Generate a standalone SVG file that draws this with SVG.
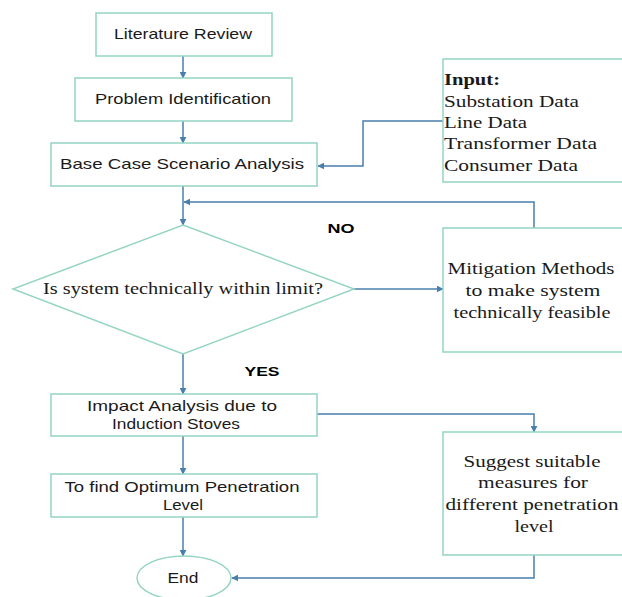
<svg xmlns="http://www.w3.org/2000/svg" width="622" height="597" viewBox="0 0 622 597">
<style>
.box{fill:#fff;stroke:#95d5c4;stroke-width:1.5}
.c{fill:none;stroke:#4a7fad;stroke-width:1.5}
.s{font-family:"Liberation Sans",Arial,sans-serif;font-size:15px;fill:#1a1a1a;text-anchor:middle}
.t{font-family:"Liberation Serif","Times New Roman",serif;font-size:17px;fill:#1a1a1a}
.m{text-anchor:middle}
.b{font-family:"Liberation Sans",Arial,sans-serif;font-size:13px;font-weight:bold;fill:#000;text-anchor:middle}
</style>
<defs>
<marker id="a" viewBox="0 0 10 10" refX="9" refY="5" markerWidth="7" markerHeight="7" markerUnits="userSpaceOnUse" orient="auto">
<path d="M0,0 L10,5 L0,10 z" fill="#4a7fad"/>
</marker>
</defs>
<rect width="622" height="597" fill="#fff"/>
<g id="connectors">
<path class="c" d="M183,56 V78" marker-end="url(#a)"/>
<path class="c" d="M183,121 V143" marker-end="url(#a)"/>
<path class="c" d="M443,121 H363 V166 H318" marker-end="url(#a)"/>
<path class="c" d="M183,186 V225" marker-end="url(#a)"/>
<path class="c" d="M534,228 V202 H184" marker-end="url(#a)"/>
<path class="c" d="M354,289 H443" marker-end="url(#a)"/>
<path class="c" d="M183,354 V394" marker-end="url(#a)"/>
<path class="c" d="M317,414 H534 V432" marker-end="url(#a)"/>
<path class="c" d="M183,436 V474" marker-end="url(#a)"/>
<path class="c" d="M183,517 V556" marker-end="url(#a)"/>
<path class="c" d="M534,555 V578 H232" marker-end="url(#a)"/>
</g>
<g id="literature">
<rect class="box" x="96" y="13" width="176" height="43"/>
<text class="s" x="183" y="39" textLength="138" lengthAdjust="spacingAndGlyphs">Literature Review</text>
</g>
<g id="problem">
<rect class="box" x="75" y="78" width="217" height="43"/>
<text class="s" x="183" y="104" textLength="176" lengthAdjust="spacingAndGlyphs">Problem Identification</text>
</g>
<g id="basecase">
<rect class="box" x="51" y="143" width="266" height="43"/>
<text class="s" x="182" y="169" textLength="244" lengthAdjust="spacingAndGlyphs">Base Case Scenario Analysis</text>
</g>
<g id="input">
<rect class="box" x="443" y="59" width="182" height="123"/>
<text class="t" x="444" y="85" font-weight="bold" textLength="56" lengthAdjust="spacingAndGlyphs">Input:</text>
<text class="t" x="444" y="107" textLength="135" lengthAdjust="spacingAndGlyphs">Substation Data</text>
<text class="t" x="444" y="128" textLength="83" lengthAdjust="spacingAndGlyphs">Line Data</text>
<text class="t" x="444" y="149" textLength="153" lengthAdjust="spacingAndGlyphs">Transformer Data</text>
<text class="t" x="444" y="171" textLength="134" lengthAdjust="spacingAndGlyphs">Consumer Data</text>
</g>
<g id="decision">
<polygon class="box" points="183,225 354,289 183,354 13,289"/>
<text class="t m" x="183" y="294" textLength="280" lengthAdjust="spacingAndGlyphs">Is system technically within limit?</text>
</g>
<g id="mitigation">
<rect class="box" x="443" y="228" width="182" height="124"/>
<text class="t m" x="531" y="274" textLength="167" lengthAdjust="spacingAndGlyphs">Mitigation Methods</text>
<text class="t m" x="533" y="296" textLength="135" lengthAdjust="spacingAndGlyphs">to make system</text>
<text class="t m" x="532" y="318" textLength="157" lengthAdjust="spacingAndGlyphs">technically feasible</text>
</g>
<g id="labels">
<text class="b" x="341" y="233" textLength="27" lengthAdjust="spacingAndGlyphs">NO</text>
<text class="b" x="262" y="376" textLength="35" lengthAdjust="spacingAndGlyphs">YES</text>
</g>
<g id="impact">
<rect class="box" x="51" y="394" width="266" height="42"/>
<text class="s" x="182" y="411" textLength="190" lengthAdjust="spacingAndGlyphs">Impact Analysis due to</text>
<text class="s" x="176" y="429" textLength="128" lengthAdjust="spacingAndGlyphs">Induction Stoves</text>
</g>
<g id="suggest">
<rect class="box" x="443" y="432" width="182" height="123"/>
<text class="t m" x="532" y="467" textLength="137" lengthAdjust="spacingAndGlyphs">Suggest suitable</text>
<text class="t m" x="533" y="488" textLength="110" lengthAdjust="spacingAndGlyphs">measures for</text>
<text class="t m" x="532" y="510" textLength="173" lengthAdjust="spacingAndGlyphs">different penetration</text>
<text class="t m" x="534" y="532" textLength="39" lengthAdjust="spacingAndGlyphs">level</text>
</g>
<g id="optimum">
<rect class="box" x="51" y="474" width="266" height="43"/>
<text class="s" x="182" y="492" textLength="235" lengthAdjust="spacingAndGlyphs">To find Optimum Penetration</text>
<text class="s" x="183" y="510" textLength="40" lengthAdjust="spacingAndGlyphs">Level</text>
</g>
<g id="end">
<ellipse class="box" cx="184" cy="578" rx="47" ry="22"/>
<text class="s" x="183" y="583" textLength="31" lengthAdjust="spacingAndGlyphs">End</text>
</g>
</svg>
